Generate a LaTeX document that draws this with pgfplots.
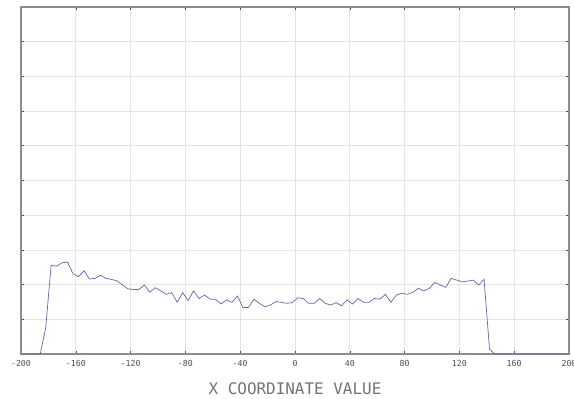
\documentclass[border=0pt]{standalone}
\usepackage{pgfplots}
\pgfplotsset{compat=1.18}
\usepackage{fontspec}
\setmonofont{DejaVu Sans Mono}
\definecolor{linec}{RGB}{100,100,175}
\definecolor{gridc}{RGB}{228,228,228}
\definecolor{spinec}{RGB}{140,140,140}
\definecolor{txtc}{RGB}{80,80,80}
\begin{document}
\begin{tikzpicture}[x=1bp,y=1bp]
\begin{axis}[
  at={(21bp,45bp)}, anchor=south west,
  scale only axis, width=548bp, height=347bp,
  xmin=-200, xmax=200, ymin=0, ymax=10,
  xtick={-200,-160,...,200},
  ytick={1,2,...,9},
  yticklabels={},
  grid=major,
  major grid style={color=gridc, line width=0.8pt},
  axis line style={color=spinec, line width=1.2pt},
  tick style={color=txtc, line width=0.6pt},
  major tick length=3bp,
  tick align=inside,
  xtick pos=both, ytick pos=both,
  xticklabel style={font=\ttfamily\fontsize{8.3}{8.5}\selectfont, text=txtc, yshift=-3bp},
  /pgf/number format/assume math mode=true,
  xlabel={X COORDINATE VALUE},
  xlabel style={font=\ttfamily\fontsize{16}{16}\selectfont, text={rgb,255:red,115;green,115;blue,115}, yshift=-9bp},
  clip=false,
]
\addplot[color=linec, line width=0.7pt] coordinates {
(-200,0) (-186,0) (-182,0.74) (-178,2.56) (-174,2.53) (-170,2.63) (-166,2.65)
(-162,2.31) (-158,2.23) (-154,2.40) (-150,2.16) (-146,2.18) (-142,2.27) (-138,2.18)
(-134,2.15) (-130,2.11) (-126,1.99) (-122,1.88) (-118,1.86) (-114,1.86) (-110,1.99)
(-106,1.78) (-102,1.91) (-98,1.82) (-94,1.72) (-90,1.77) (-86,1.49) (-82,1.77)
(-78,1.54) (-74,1.82) (-70,1.60) (-66,1.70) (-62,1.58) (-58,1.58) (-54,1.44)
(-50,1.56) (-46,1.49) (-42,1.67) (-38,1.34) (-34,1.34) (-30,1.58) (-26,1.46)
(-22,1.36) (-18,1.41) (-14,1.51) (-10,1.49) (-6,1.46) (-2,1.48) (2,1.62)
(6,1.60) (10,1.46) (14,1.46) (18,1.60) (22,1.46) (26,1.41) (30,1.48)
(34,1.39) (38,1.56) (42,1.44) (46,1.60) (50,1.49) (54,1.49) (58,1.60)
(62,1.58) (66,1.72) (70,1.49) (74,1.70) (78,1.75) (82,1.72) (86,1.78)
(90,1.89) (94,1.82) (98,1.89) (102,2.06) (106,1.99) (110,1.92) (114,2.18)
(118,2.13) (122,2.08) (126,2.10) (130,2.13) (134,1.99) (138,2.15) (142,0.13)
(146,0) (200,0)
};
\end{axis}
\pgfresetboundingbox
\useasboundingbox (0,0) rectangle (574bp,399bp);
\end{tikzpicture}
\end{document}
